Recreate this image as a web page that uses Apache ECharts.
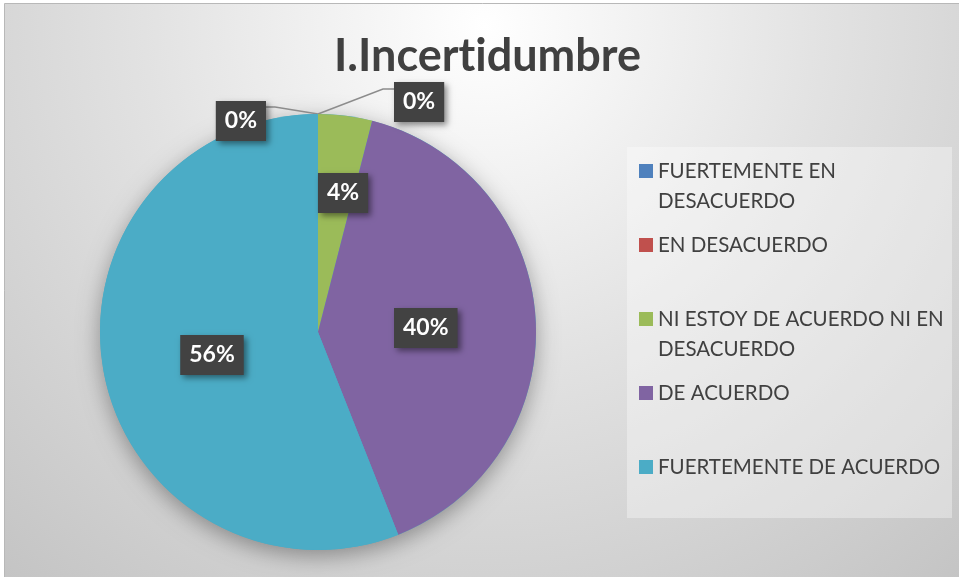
<!DOCTYPE html>
<html>
<head>
<meta charset="utf-8">
<script src="https://cdn.jsdelivr.net/npm/echarts@6/dist/echarts.min.js"></script>
<style>
  html, body { margin: 0; padding: 0; background: #fff; }
  #chart { width: 959px; height: 577px; }
</style>
</head>
<body>
<div id="chart"></div>
<script>
// survey answers, in the order Excel stacks them clockwise from 12 o'clock
const categories = [
  'FUERTEMENTE EN DESACUERDO',
  'EN DESACUERDO',
  'NI ESTOY DE ACUERDO NI EN DESACUERDO',
  'DE ACUERDO',
  'FUERTEMENTE DE ACUERDO'
];
const values = [0, 0, 4, 40, 56];
const colors = ['#4f81bd', '#c0504d', '#9bbb59', '#8064a2', '#4bacc6'];
// zero width non-joiner keeps Lato from drawing the "ti" ligature
const title = 'I.Incert\u200Cidumbre';

const FONT = 'Lato, "Open Sans", sans-serif';
const total = values.reduce((a, b) => a + b, 0);

const labelBox = {
  color: '#fff',
  fontFamily: FONT,
  fontWeight: 'bold',
  fontSize: 23,
  lineHeight: 22,
  backgroundColor: '#424242',
  padding: [9, 9],
  shadowColor: 'rgba(0,0,0,0.45)',
  shadowBlur: 6,
  shadowOffsetX: 3,
  shadowOffsetY: 3
};

const pieData = categories.map((name, i) => {
  const item = { name: name, value: values[i], itemStyle: { color: colors[i] } };
  if (values[i] === 0) {
    item.label = { position: 'outside' };
    item.labelLine = { show: true };
  }
  return item;
});

// excel puts long names on two lines, break before the last word
function legendText(name) {
  let txt = name;
  if (name.length > 23) {
    const k = name.lastIndexOf(' ');
    txt = name.slice(0, k) + '\n' + name.slice(k + 1);
  } else {
    txt = name + '\n ';
  }
  return '\n' + txt;
}

const chart = echarts.init(document.getElementById('chart'));
chart.setOption({
  backgroundColor: '#fff',
  animation: false,
  color: colors,
  graphic: [
    {
      type: 'rect',
      z: -10,
      silent: true,
      shape: { x: 4.5, y: 3.5, width: 960, height: 580 },
      style: {
        fill: new echarts.graphic.RadialGradient(0.5, 0.04, 1.3, [
          { offset: 0, color: '#ffffff' },
          { offset: 0.45, color: '#e2e2e2' },
          { offset: 1, color: '#c2c2c2' }
        ]),
        stroke: '#b8b8b8',
        lineWidth: 1
      }
    },
    {
      type: 'rect',
      z: -9,
      silent: true,
      shape: { x: 627, y: 147, width: 325, height: 371 },
      style: { fill: 'rgba(255,255,255,0.35)' }
    }
  ],
  title: {
    text: title,
    left: 334,
    top: 34,
    padding: 0,
    textStyle: {
      fontFamily: FONT,
      fontWeight: 'bold',
      fontSize: 45,
      color: '#404040'
    }
  },
  legend: {
    data: categories,
    orient: 'vertical',
    left: 639,
    top: 126,
    padding: 0,
    itemWidth: 14,
    itemHeight: 14,
    itemGap: -16,
    icon: 'rect',
    selectedMode: false,
    formatter: legendText,
    textStyle: {
      fontFamily: FONT,
      fontSize: 20.5,
      lineHeight: 30,
      color: '#404040'
    }
  },
  series: [
    {
      // soft drop shadow under the whole pie
      type: 'pie',
      silent: true,
      z: 1,
      center: [318, 332],
      radius: 218,
      data: [{ name: 'total', value: total }],
      label: { show: false },
      labelLine: { show: false },
      itemStyle: {
        color: '#4bacc6',
        shadowColor: 'rgba(0,0,0,0.35)',
        shadowBlur: 22,
        shadowOffsetY: 6
      }
    },
    {
      type: 'pie',
      z: 2,
      center: [318, 332],
      radius: 218,
      startAngle: 90,
      clockwise: true,
      data: pieData,
      itemStyle: { borderWidth: 0 },
      label: Object.assign({
        show: true,
        position: 'inside',
        formatter: p => Math.round(p.percent) + '%'
      }, labelBox),
      labelLine: {
        show: false,
        lineStyle: { color: '#8c8c8c', width: 1.5 }
      },
      emphasis: { disabled: true },
      labelLayout: function (p) {
        if (p.dataIndex === 2) return { dx: 11, dy: -28 };
        if (p.dataIndex === 3) return { dx: -4, dy: 3 };
        if (p.dataIndex === 4) return { dx: 4, dy: 2 };
        if (p.dataIndex === 0 || p.dataIndex === 1) {
          const a = p.labelLinePoints[0];
          if (p.dataIndex === 0) {
            return {
              x: a[0] - 52, y: a[1] + 7, align: 'right', verticalAlign: 'middle',
              labelLinePoints: [a, [a[0] - 43, a[1] - 7], [a[0] - 52, a[1] - 7]]
            };
          }
          return {
            x: a[0] + 76, y: a[1] - 12, align: 'left', verticalAlign: 'middle',
            labelLinePoints: [a, [a[0] + 65, a[1] - 25], [a[0] + 76, a[1] - 25]]
          };
        }
        return {};
      }
    }
  ]
});
</script>
</body>
</html>
